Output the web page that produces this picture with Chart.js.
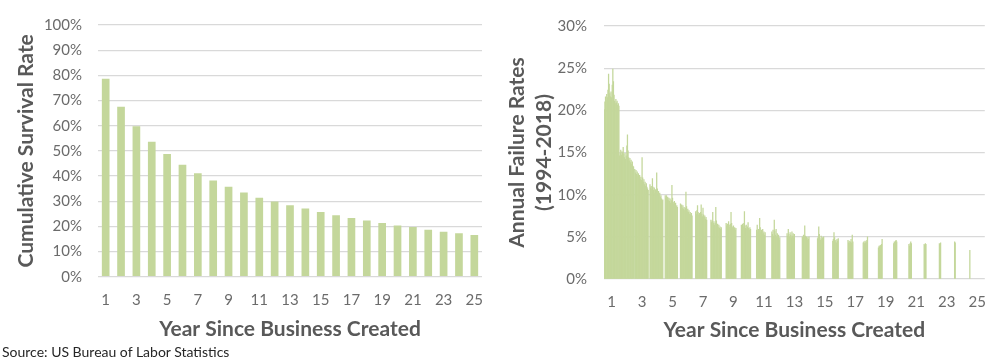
<!DOCTYPE html>
<html><head><meta charset="utf-8">
<script src="https://cdn.jsdelivr.net/npm/chart.js@4.4.1/dist/chart.umd.min.js"></script>
<style>
html,body{margin:0;padding:0;background:#fff;width:1000px;height:363px;overflow:hidden;}
#w1{position:absolute;left:0;top:0;width:500px;height:345px;}
#w2{position:absolute;left:500px;top:0;width:500px;height:345px;}
#src{position:absolute;left:2px;top:343px;font:14px Lato,"Open Sans",sans-serif;color:#262626;white-space:nowrap;}
</style></head><body>
<div id="w1"><canvas id="c1" width="500" height="345"></canvas></div>
<div id="w2"><canvas id="c2" width="500" height="345"></canvas></div>
<div id="src">Source: US Bureau of Labor Statistics</div>
<script>
// ---- data ----
const years = [1,2,3,4,5,6,7,8,9,10,11,12,13,14,15,16,17,18,19,20,21,22,23,24,25];
const survival = [78.6,67.5,59.8,53.6,48.7,44.5,41.1,38.2,35.7,33.5,31.4,29.9,28.4,27.1,25.7,24.4,23.3,22.3,21.3,20.3,19.7,18.7,17.9,17.3,16.6];
const survivalTicks = [0,10,20,30,40,50,60,70,80,90,100];
const failureTicks = [0,5,10,15,20,25,30];
const cohorts = [1994,1995,1996,1997,1998,1999,2000,2001,2002,2003,2004,2005,2006,2007,2008,2009,2010,2011,2012,2013,2014,2015,2016,2017,2018];
// annual failure rate (%) for each year since creation, one value per cohort (1994 first)
const y1 = [20.1,21.0,21.6,21.2,21.9,21.5,22.4,24.3,23.1,22.0,21.6,22.2,21.5,23.0,24.9,23.4,21.8,21.1,20.8,21.3,20.9,21.1,20.6,20.8,20.5];
const y2 = [14.6,14.9,15.3,14.7,15.1,15.0,15.6,14.8,14.4,14.9,14.2,14.6,15.8,17.1,15.2,14.4,14.0,14.3,13.8,14.1,13.6,13.9,13.4,13.3];
const y3 = [13.0,12.6,12.9,12.4,12.7,12.2,12.5,12.0,12.3,11.8,12.1,11.7,14.4,12.0,11.5,11.8,11.2,11.5,11.0,11.3,10.9,10.7,10.5];
const y4 = [11.2,10.8,11.0,10.6,11.9,10.9,10.5,10.8,10.2,10.6,10.4,12.6,10.7,10.1,10.4,9.9,10.2,9.7,9.9,9.5,9.3,9.4];
const y5 = [9.9,9.6,9.9,9.4,9.7,9.3,9.6,9.2,9.5,9.0,9.3,11.1,9.6,9.1,8.9,9.2,8.8,9.0,8.6,8.7,8.5];
const y6 = [8.9,8.6,8.8,8.4,8.7,8.3,8.5,8.1,8.4,10.3,8.6,8.0,8.3,7.9,8.1,7.7,7.9,7.6,7.8,7.5];
const y7 = [8.0,7.7,8.1,8.7,7.9,7.6,7.8,7.5,7.9,8.8,7.7,7.4,8.4,7.6,7.3,7.5,7.1,7.3,7.0];
const y8 = [7.0,6.7,6.9,7.9,6.6,6.8,6.4,6.6,8.5,6.9,6.3,6.5,6.1,6.4,6.0,6.2,5.9,6.1];
const y9 = [6.6,6.3,6.5,6.2,6.8,6.4,6.1,6.5,7.9,6.6,6.2,6.0,6.3,5.9,6.1,5.8,6.0];
const y10 = [6.4,6.1,6.5,6.2,6.6,8.0,6.3,6.0,6.4,5.9,6.2,6.7,6.0,5.8,6.1,5.9];
const y11 = [5.8,6.4,5.6,5.9,5.4,7.2,6.1,5.5,5.8,5.3,5.9,5.4,5.6,5.2,5.5];
const y12 = [5.6,5.3,5.8,5.1,7.0,5.7,5.2,5.9,5.0,5.4,4.8,5.2,4.6,4.9];
const y13 = [5.4,5.1,5.9,5.3,5.0,5.5,5.2,4.9,5.6,5.1,5.4,5.0,5.3];
const y14 = [5.0,4.8,5.2,4.9,6.3,5.1,4.7,5.0,4.6,4.9,4.7,5.0];
const y15 = [4.8,5.0,6.2,5.3,4.8,4.6,5.1,4.7,4.9,4.6,5.0];
const y16 = [4.5,4.7,5.5,4.9,4.4,4.6,4.3,4.7,4.5,4.8];
const y17 = [4.6,4.3,4.5,4.2,4.4,4.7,4.3,5.2,4.4];
const y18 = [4.3,4.4,4.2,4.5,4.3,4.4,4.6,5.0];
const y19 = [3.7,3.9,3.8,4.0,3.9,4.1,4.7];
const y20 = [4.2,4.4,4.3,4.5,4.6,4.4];
const y21 = [4.1,3.9,4.2,4.4,4.2];
const y22 = [4.1,4.0,4.2,4.1];
const y23 = [4.2,4.1,4.3];
const y24 = [4.4,4.3];
const y25 = [3.4];
const failureByYear = [y1,y2,y3,y4,y5,y6,y7,y8,y9,y10,y11,y12,y13,y14,y15,y16,y17,y18,y19,y20,y21,y22,y23,y24,y25];

// ---- styles ----
const FONT = 'Lato, "Open Sans", sans-serif';
const GREEN = '#c4d79b';
const TICKC = '#6b6b6b';
const TITLEC = '#595959';
const GRIDC = '#d9d9d9';

function oddLabel(v, i) { return (i % 2 === 0) ? String(years[i]) : ''; }

// ---- left chart ----
new Chart(document.getElementById('c1'), {
  type: 'bar',
  data: { labels: years, datasets: [{ data: survival, backgroundColor: GREEN, barPercentage: 0.5, categoryPercentage: 1 }] },
  options: {
    responsive: false, animation: false, devicePixelRatio: 1,
    layout: { padding: { left: 0, right: 18, top: 12, bottom: 0 } },
    plugins: { legend: { display: false }, tooltip: { enabled: false } },
    scales: {
      x: {
        grid: { display: false, drawTicks: false }, border: { display: false },
        ticks: { font: { family: FONT, size: 15 }, color: TICKC, padding: 14, maxRotation: 0, autoSkip: false, callback: oddLabel },
        title: { display: true, text: 'Year Since Business Created', font: { family: FONT, size: 21, weight: 'bold' }, color: TITLEC, padding: { top: 0, bottom: 3 } },
        afterFit: s => { s.height = 345 - 276.7; }
      },
      y: {
        min: 0, max: 100,
        afterBuildTicks: s => { s.ticks = survivalTicks.map(v => ({ value: v })); },
        ticks: { font: { family: FONT, size: 15 }, color: TICKC, padding: 16, callback: v => v + '%' },
        grid: { color: GRIDC, drawTicks: false, lineWidth: 1.2 }, border: { display: false },
        title: { display: true, text: 'Cumulative Survival Rate', font: { family: FONT, size: 21, weight: 'bold' }, color: TITLEC, padding: { top: 14, bottom: 0 } },
        afterFit: s => { s.width = 98; }
      }
    }
  }
});

// ---- right chart ----
const failDatasets = cohorts.map((c, ci) => ({
  label: String(c),
  data: failureByYear.map(arr => (ci < arr.length ? arr[ci] : null)),
  backgroundColor: GREEN, barPercentage: 1, categoryPercentage: 1, borderWidth: 0
}));

new Chart(document.getElementById('c2'), {
  type: 'bar',
  data: { labels: years, datasets: failDatasets },
  options: {
    responsive: false, animation: false, devicePixelRatio: 1,
    layout: { padding: { left: 0, right: 7, top: 11.7, bottom: 0 } },
    plugins: { legend: { display: false }, tooltip: { enabled: false } },
    scales: {
      x: {
        grid: { display: false, drawTicks: false }, border: { display: false },
        ticks: { font: { family: FONT, size: 15 }, color: TICKC, padding: 14, maxRotation: 0, autoSkip: false, callback: oddLabel },
        title: { display: true, text: 'Year Since Business Created', font: { family: FONT, size: 21, weight: 'bold' }, color: TITLEC, padding: { top: 0, bottom: 2 } },
        afterFit: s => { s.height = 345 - 279; }
      },
      y: {
        min: 0, max: 30,
        afterBuildTicks: s => { s.ticks = failureTicks.map(v => ({ value: v })); },
        ticks: { font: { family: FONT, size: 15 }, color: TICKC, padding: 17, callback: v => v + '%' },
        grid: { color: GRIDC, drawTicks: false, lineWidth: 1.2 }, border: { display: false },
        title: { display: true, text: ['Annual Failure Rates', '(1994-2018)'], font: { family: FONT, size: 21, weight: 'bold', lineHeight: 1.3 }, color: TITLEC, padding: { top: 3.5, bottom: 0 } },
        afterFit: s => { s.width = 104; }
      }
    }
  }
});
</script>
</body></html>
